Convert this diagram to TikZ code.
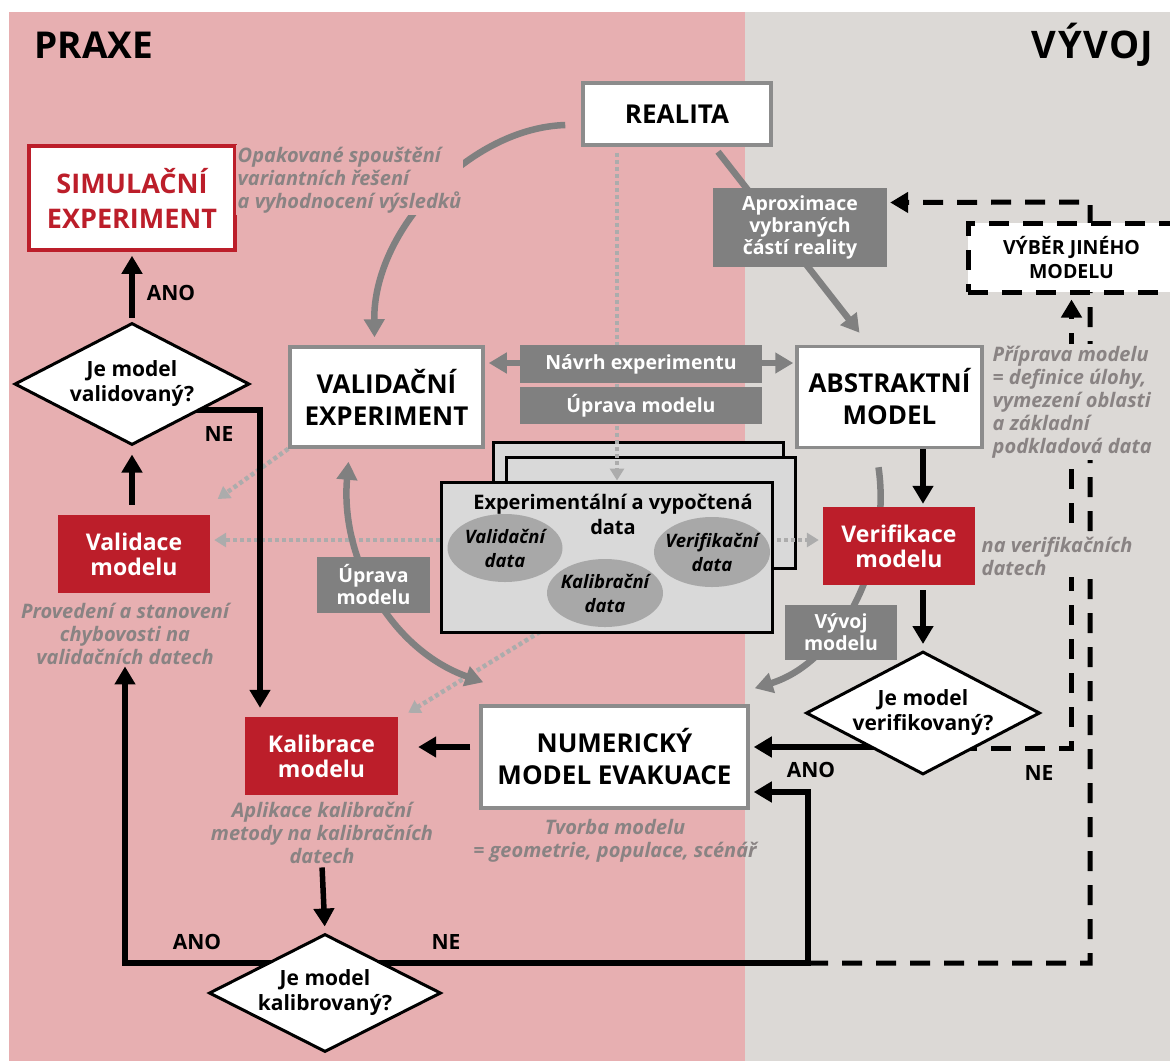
\documentclass[tikz,border=0pt]{standalone}
\usepackage{fontspec}
\setmainfont{Open Sans}
\usepackage{xcolor}
\usepackage{tikz}
\usetikzlibrary{shapes, arrows.meta, positioning}
\pgfdeclarelayer{back}
\pgfdeclarelayer{lines}
\pgfsetlayers{back,lines,main}

\definecolor{praxe}{RGB}{231,175,177}
\definecolor{vyvoj}{RGB}{220,217,214}
\definecolor{cervena}{RGB}{188,30,42}
\definecolor{seda}{RGB}{128,128,128}
\definecolor{ramecek}{RGB}{140,140,140}
\definecolor{poznamka}{RGB}{137,131,131}
\definecolor{tecky}{RGB}{172,172,172}
\definecolor{data}{RGB}{217,217,217}
\definecolor{elipsa}{RGB}{168,168,168}

\begin{document}
\begin{tikzpicture}[x=1pt, y=-1pt]
\tikzstyle{greybox} = [rectangle, draw=ramecek, line width=3.5pt, fill=white, align=center, inner sep=0pt, font=\fontsize{26}{32}\selectfont\bfseries]
\tikzstyle{redbox} = [rectangle, fill=cervena, text=white, align=center, inner sep=0pt, minimum width=152pt, minimum height=78pt, font=\fontsize{23}{25}\selectfont\bfseries]
\tikzstyle{greytag} = [rectangle, fill=seda, text=white, align=center, inner sep=0pt, font=\fontsize{19.5}{22}\selectfont\bfseries]
\tikzstyle{decision} = [diamond, draw=black, line width=3pt, fill=white, align=center, inner sep=0pt, aspect=1.9, font=\fontsize{21}{25}\selectfont\bfseries]
\tikzstyle{note} = [align=center, inner sep=1.5pt, text=poznamka, font=\fontsize{20}{23}\selectfont\bfseries\itshape]
\tikzstyle{answer} = [font=\fontsize{21}{24}\selectfont\bfseries]
\tikzstyle{dataset} = [ellipse, fill=elipsa, align=center, inner xsep=-16pt, inner ysep=-8pt, font=\fontsize{18.5}{24}\selectfont\bfseries\itshape]
\tikzstyle{stack} = [rectangle, draw=black, line width=3pt, fill=data, inner sep=0pt]
\tikzstyle{arrow} = [line width=5.5pt, -{Triangle[length=18pt,width=20pt]}]
\tikzstyle{greyarrow} = [draw=seda, line width=6.5pt, -{Triangle[length=18pt,width=20pt]}]
\tikzstyle{greyboth} = [greyarrow, {Triangle[length=18pt,width=20pt]}-{Triangle[length=18pt,width=20pt]}]
\tikzstyle{dotarrow} = [draw=tecky, line width=4.5pt, dash pattern=on 4pt off 3pt, -{Triangle[length=12pt,width=14pt]}]
\tikzstyle{dasharrow} = [line width=5pt, dash pattern=on 20pt off 14pt, -{Triangle[length=18pt,width=20pt]}]

\useasboundingbox (0,0) rectangle (1170,1061);
\begin{pgfonlayer}{back}
\fill[praxe] (9,12) rectangle (745,1061);
\fill[vyvoj] (745,12) rectangle (1170,1061);
\end{pgfonlayer}

\node (praxetitle) [anchor=west, font=\fontsize{37}{40}\selectfont\bfseries] at (31,45) {PRAXE};
\node (vyvojtitle) [anchor=east, font=\fontsize{38}{40}\selectfont\bfseries\addfontfeatures{LetterSpace=4}] at (1157,45) {VÝVOJ};

\node (realita) [greybox, minimum width=188pt, minimum height=62pt] at (677,114) {REALITA};
\node (simul) [greybox, draw=cervena, text=cervena, minimum width=206pt, minimum height=104pt, font=\fontsize{27}{35}\selectfont\bfseries] at (132,198) {SIMULAČNÍ\\EXPERIMENT};
\node (simnote) [note, align=left, anchor=west, fill=praxe] at (236,180) {Opakované spouštění\\variantních řešení\\a vyhodnocení výsledků};
\node (validq) [decision, minimum width=235pt, minimum height=122pt] at (132,384) {Je model\\validovaný?};
\node (ano1) [answer] at (171,293) {ANO};
\node (ne1) [answer] at (219,434) {NE};
\node (validace) [redbox] at (134,554) {Validace\\modelu};
\node (valnote) [note] at (125,634) {Provedení a stanovení\\chybovosti na\\validačních datech};
\node (valexp) [greybox, minimum width=193pt, minimum height=100pt] at (386.5,397) {VALIDAČNÍ\\EXPERIMENT};
\node (navrh) [greytag, minimum width=242pt, minimum height=38pt] at (641,364) {Návrh experimentu};
\node (upravaA) [greytag, minimum width=242pt, minimum height=37pt] at (641,405.5) {Úprava modelu};
\node (abstr) [greybox, minimum width=185pt, minimum height=101pt] at (889.5,397) {ABSTRAKTNÍ\\MODEL};
\node (absnote) [note, align=left, anchor=west, fill=vyvoj] at (991,402) {Příprava modelu\\= definice úlohy,\\vymezení oblasti\\a základní\\podkladová data};
\node (aprox) [greytag, minimum width=174pt, minimum height=79pt] at (800,227.5) {Aproximace\\vybraných\\částí reality};
\node (vyber) [rectangle, draw=black, line width=5pt, dash pattern=on 20pt off 14pt, fill=white, align=center, minimum width=207pt, minimum height=69pt, font=\fontsize{19.5}{24}\selectfont\bfseries] at (1071.5,257.5) {VÝBĚR JINÉHO\\MODELU};

\node (datafront) [stack, minimum width=331pt, minimum height=150pt] at (606.5,557) {};
\node (datatitle) [align=center, font=\fontsize{20}{25}\selectfont\bfseries] at (613,514) {Experimentální a vypočtená\\data};
\node (valdata) [dataset, minimum width=115pt, minimum height=68pt] at (505,548) {Validační\\data};
\node (kaldata) [dataset, minimum width=116pt, minimum height=68pt] at (605,593) {Kalibrační\\data};
\node (verdata) [dataset, minimum width=116pt, minimum height=70pt] at (712,552) {Verifikační\\data};

\node (verif) [redbox] at (899,546) {Verifikace\\modelu};
\node (vernote) [note, align=left, anchor=west, fill=vyvoj] at (980,556) {na verifikačních\\datech};
\node (verifq) [decision, minimum width=234pt, minimum height=123pt] at (923,713) {Je model\\verifikovaný?};
\node (ano2) [answer] at (811,770) {ANO};
\node (ne2) [answer] at (1039,773) {NE};
\node (vyvojtag) [greytag, minimum width=112pt, minimum height=55pt] at (841,632.5) {Vývoj\\modelu};
\node (upravaB) [greytag, minimum width=113pt, minimum height=56pt] at (373.5,585) {Úprava\\modelu};
\node (numer) [greybox, minimum width=267pt, minimum height=102pt] at (614.5,757) {NUMERICKÝ\\MODEL EVAKUACE};
\node (numnote) [note] at (615,841) {Tvorba modelu\\= geometrie, populace, scénář};
\node (kalibr) [redbox, minimum width=153pt] at (321.5,756) {Kalibrace\\modelu};
\node (kalnote) [note] at (322,833) {Aplikace kalibrační\\metody na kalibračních\\datech};
\node (kalibq) [decision, minimum width=232pt, minimum height=118pt] at (325,993) {Je model\\kalibrovaný?};
\node (ano3) [answer] at (197,942) {ANO};
\node (ne3) [answer] at (446,942) {NE};

\coordinate (j1) at (808,963);
\coordinate (j2) at (1090,963);
\coordinate (j3) at (1090,202);

\begin{pgfonlayer}{lines}
\node (databack) [stack, minimum width=290pt, minimum height=118pt] at (638,501) {};
\node (datamid) [stack, minimum width=289pt, minimum height=111pt] at (650.5,512.5) {};

\draw [dotarrow, shorten <=6pt] ([xshift=-60pt]realita.south) -- ([xshift=10.5pt]datafront.north);
\draw [dotarrow, shorten >=4pt] ([yshift=8pt]valdata.west) -- ([yshift=8pt]valdata.west -| validace.east);
\draw [dotarrow, shorten >=4pt] ([yshift=12pt]verdata.east) -- ([yshift=12pt]verdata.east -| verif.west);
\draw [dotarrow, shorten >=3pt] (valexp.south west) -- ([xshift=5pt,yshift=14pt]validace.north east);
\draw [dotarrow] (kaldata.south west) -- ([xshift=10pt,yshift=4pt]kalibr.north east);

\draw [greyarrow] ([xshift=41pt,yshift=-5pt]realita.south) -- ([xshift=-30pt,yshift=12pt]abstr.north);
\draw [greyarrow] ([xshift=-16pt,yshift=-11pt]realita.west) .. controls (470,128) and (373,230) .. ([xshift=-12pt,yshift=8pt]valexp.north);
\draw [greyboth, shorten <=4pt, shorten >=2pt] ([yshift=34pt]valexp.east) -- ([yshift=34pt]abstr.west);
\draw [greyboth] ([xshift=-38pt,yshift=-13pt]valexp.south) .. controls (340,560) and (392,650) .. ([xshift=4pt,yshift=22pt]numer.north west);
\draw [greyarrow] ([xshift=-11pt,yshift=-18pt]abstr.south) .. controls (892,560) and (840,662) .. ([xshift=5pt,yshift=16pt]numer.north east);

\draw [arrow, shorten <=4pt, shorten >=4pt] (validq.north) -- (simul.south);
\draw [arrow, shorten <=10pt, shorten >=8pt] (validq.south |- validace.north) -- (validq.south);
\draw [arrow, shorten >=9pt] ([yshift=-26pt]validq.center) -| ([xshift=-61.5pt]kalibr.north);
\draw [arrow, shorten <=9pt, shorten >=20pt] ([yshift=10pt]numer.west) -- ([yshift=10pt]numer.west -| kalibr.east);
\draw [arrow, shorten <=2pt, shorten >=6pt] (kalnote.south) -- (kalibq.north);
\draw [arrow] ([yshift=30pt]kalibq.center) -| (valnote.south);
\draw [arrow] ([yshift=30pt]kalibq.center) -- (j1) |- ([xshift=4pt,yshift=-35pt]numer.east);
\draw [arrow, shorten >=3pt] (verifq.north |- abstr.south) -- (verifq.north |- verif.north);
\draw [arrow, shorten <=5pt, shorten >=6pt] (verifq.north |- verif.south) -- (verifq.north);
\draw [arrow] ([yshift=-34pt]verifq.center) -- ([xshift=4pt,yshift=10pt]numer.east);

\draw [dasharrow, shorten >=5pt] ([yshift=-35pt]verifq.center) -| (vyber.south);
\draw [dasharrow, shorten >=3pt] (j1) -- (j2) -- (j3) -- ([yshift=25pt]aprox.east);
\end{pgfonlayer}

\end{tikzpicture}
\end{document}
